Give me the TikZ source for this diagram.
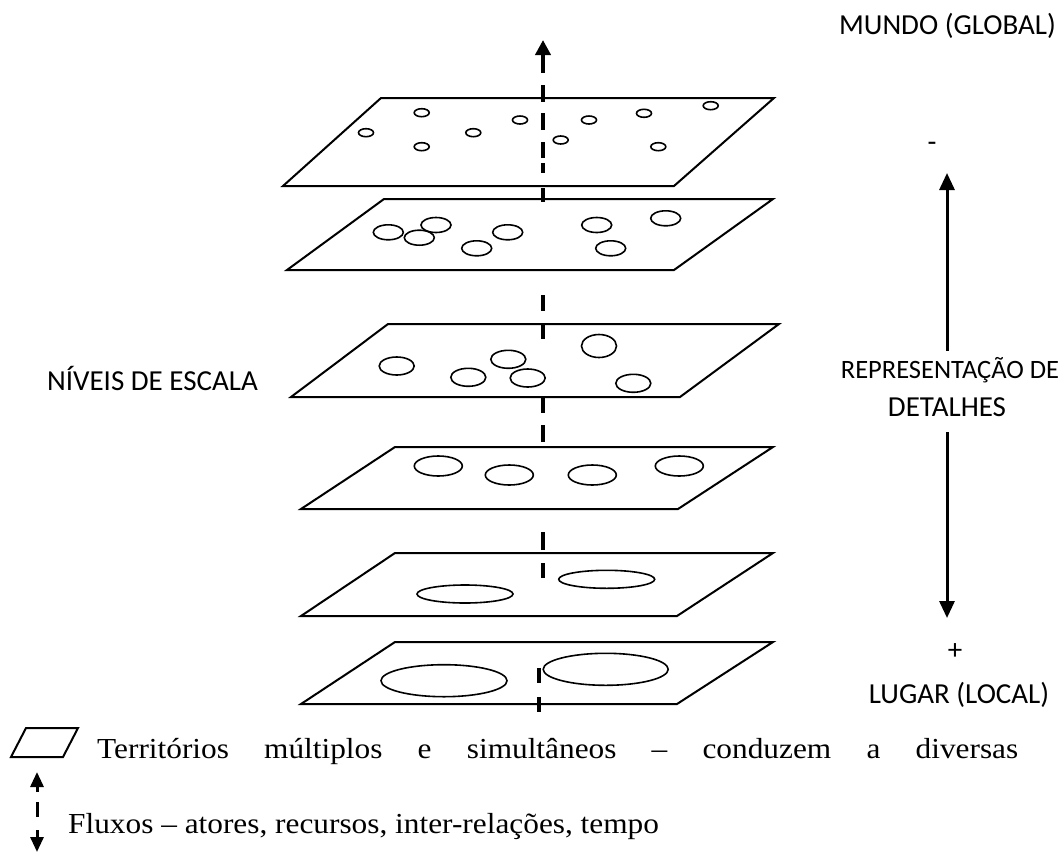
\documentclass[tikz,border=0pt]{standalone}
\usepackage{fontspec}
\usepackage{tikz}
\usetikzlibrary{arrows.meta}
\setmainfont{Liberation Serif}
\newfontfamily\rotulofont{Carlito}
\newfontfamily\legendafont[FakeStretch=1.08]{Liberation Serif}

\begin{document}
\begin{tikzpicture}[x=1pt,y=-1pt,
plano/.style={draw, line width=2pt, fill=white},
mancha/.style={draw, line width=1.6pt},
fluxo/.style={line width=4pt},
seta/.style={line width=3pt, -{Triangle[length=17pt,width=15pt]}},
rotulo/.style={font=\rotulofont\fontsize{29}{36}\selectfont, inner sep=0pt, anchor=base},
legenda/.style={font=\legendafont\fontsize{29}{34}\selectfont, inner sep=0pt, anchor=base west}]
\useasboundingbox (0,0) rectangle (1063,854);
\foreach \ya/\yb/\xa/\xb/\xc/\xd in {98/186/381/774/674/283, 199/270/384/773/674/287, 324/397/388/779/680/291, 447/509/395/773/678/301, 553/616/395/773/677/301, 642/704/395/773/677/301}
\draw[plano] (\xa,\ya) -- (\xb,\ya) -- (\xc,\yb) -- (\xd,\yb) -- cycle;
\foreach \x/\y/\rx/\ry in {421.7/112.7/7.5/4, 366/132.7/7.5/4, 421.7/146.7/7.5/4, 473.3/132.7/7.5/4, 520/120/7.5/4, 560.7/140/7.5/4, 589/120/7.5/4, 644/113.3/7.5/4, 658.3/146.7/7.5/4, 710.7/105.7/7.5/4,
388.3/232.3/15/7.5, 419.3/237.7/15/7.5, 436/225/15/7.5, 476.7/248.3/15/7.5, 507.7/232.3/15/7.5, 596.7/225/15/7.5, 610.7/248.3/15/7.5, 665.7/218.3/15/7.5,
396.7/366/17.5/9, 468.3/377.3/17.5/9, 508.3/359.3/17.5/9, 527.7/378/17.5/9, 599/346/17.5/11.5, 633.3/383.3/17.5/9,
438.3/466/24/10, 509.3/475/24/10, 592.3/475/24/10, 679.3/466/24/10,
465/594/48/9, 606.7/579.3/48/9,
444/680.7/63/16, 605.7/669.3/62.5/16}
\draw[mancha] (\x,\y) ellipse [x radius=\rx, y radius=\ry];
\coordinate (global) at (543,40);
\draw[fluxo, -{Triangle[length=15pt,width=15pt]}] (543,73) -- (global);
\foreach \x/\ya/\yb in {543/85/102, 543/113/130, 543/142/158, 543/163/173, 543/188/202, 543/295/311, 543/325/339, 543/398/413, 543/425/442, 543/532/550, 543/563/578, 539/668/683, 539/697/712}
\draw[fluxo] (\x,\ya) -- (\x,\yb);
\node[rotulo] (mundo) at (947.5,34) {MUNDO (GLOBAL)};
\node[rotulo] (menos) at (932,151) {-};
\node[rotulo, font=\rotulofont\fontsize{26.5}{36}\selectfont] (repres) at (950,378) {REPRESENTAÇÃO DE};
\node[rotulo] (detalhes) at (947,416) {DETALHES};
\node[rotulo] (mais) at (955,659) {+};
\node[rotulo] (lugar) at (959,703) {LUGAR (LOCAL)};
\node[rotulo] (niveis) at (152.5,390) {NÍVEIS DE ESCALA};
\coordinate (topo) at (947,173);
\coordinate (base) at (947,618);
\draw[seta] ([yshift=6pt]repres.north -| topo) -- (topo);
\draw[seta] ([yshift=-16pt]detalhes.south -| base) -- (base);
\draw[plano] (26,728) -- (78,728) -- (63,757) -- (11,757) -- cycle;
\node[legenda] (territorios) at (97,758) {\makebox[921pt][s]{Territórios\hfill múltiplos\hfill e\hfill simultâneos\hfill –\hfill conduzem\hfill a\hfill diversas}};
\node[legenda] (fluxos) at (68,833) {Fluxos – atores, recursos, inter-relações, tempo};
\coordinate (lsup) at (37,772);
\coordinate (linf) at (37,852);
\draw[seta, -{Triangle[length=15pt,width=13pt]}] (37,792) -- (lsup);
\draw[line width=3pt] (37,802) -- (37,817);
\draw[seta, -{Triangle[length=15pt,width=13pt]}] (37,830) -- (linf);
\end{tikzpicture}
\end{document}
